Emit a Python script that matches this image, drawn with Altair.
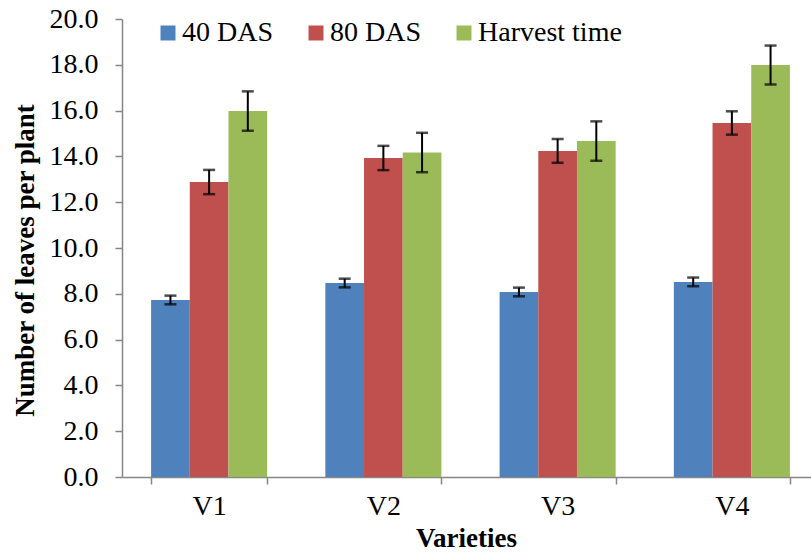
import altair as alt
import pandas as pd

categories = ["V1", "V2", "V3", "V4"]
series = ["40 DAS", "80 DAS", "Harvest time"]
vals_40 = [7.73, 8.47, 8.08, 8.52]
err_40 = [0.19, 0.19, 0.19, 0.19]
vals_80 = [12.88, 13.93, 14.24, 15.46]
err_80 = [0.53, 0.53, 0.52, 0.51]
vals_h = [15.98, 14.17, 14.67, 17.99]
err_h = [0.86, 0.86, 0.86, 0.85]
colors = ["#4F81BD", "#C0504D", "#9BBB59"]
y_ticks = [0, 2, 4, 6, 8, 10, 12, 14, 16, 18, 20]

rows = []
for s, vals, errs in zip(series, [vals_40, vals_80, vals_h], [err_40, err_80, err_h]):
    for c, v, e in zip(categories, vals, errs):
        rows.append({"cat": c, "series": s, "value": v, "lo": v - e, "hi": v + e})
df = pd.DataFrame(rows)

FONT = "Liberation Serif"
W, H = 689, 458
AX = "#868686"

x_enc = alt.X(
    "cat:N",
    sort=categories,
    scale=alt.Scale(range=[0, 697], paddingInner=0.334, paddingOuter=0.167),
    axis=alt.Axis(
        title="Varieties",
        titleFont=FONT, titleFontSize=27, titleFontWeight="bold", titleColor="black",
        titleX=344, titleY=69, titleBaseline="alphabetic", titleAlign="center",
        labelFont=FONT, labelFontSize=28, labelColor="black", labelAngle=0,
        labelBaseline="alphabetic", labelPadding=30,
        domainColor=AX, domainWidth=1.5, tickColor=AX, tickWidth=1.5, tickSize=7,
        tickBand="extent", grid=False,
    ),
)
xoff = alt.XOffset("series:N", sort=series, scale=alt.Scale(paddingInner=0, paddingOuter=0))

y_scale = alt.Scale(domain=[0, 20], nice=False)
y_axis = alt.Axis(
    title="Number of leaves per plant",
    titleFont=FONT, titleFontSize=27, titleFontWeight="bold", titleColor="black",
    titleX=-89, titleY=241, titleAlign="center", titleBaseline="alphabetic", titleAngle=-90,
    labelFont=FONT, labelFontSize=28, labelColor="black", labelPadding=17,
    format=".1f", values=y_ticks,
    domainColor=AX, domainWidth=1.5, tickColor=AX, tickWidth=1.5, tickSize=7, grid=False,
)

base = alt.Chart(df)
bars = base.mark_bar().encode(
    x=x_enc,
    xOffset=xoff,
    y=alt.Y("value:Q", scale=y_scale, axis=y_axis),
    color=alt.Color(
        "series:N", sort=series,
        scale=alt.Scale(domain=series, range=colors),
        legend=alt.Legend(
            title=None, orient="none", legendX=32, legendY=0, direction="horizontal",
            symbolType="square", symbolSize=225, symbolStrokeWidth=0, symbolOpacity=1,
            labelFont=FONT, labelFontSize=28, labelColor="black", labelOffset=0,
            columnPadding=28, padding=0,
        ),
    ),
)
rules = base.mark_rule(color="black", strokeWidth=2).encode(
    x=alt.X("cat:N", sort=categories), xOffset=xoff,
    y=alt.Y("lo:Q", scale=y_scale), y2="hi:Q",
)
cap_lo = base.mark_tick(color="black", thickness=2.5, size=12).encode(
    x=alt.X("cat:N", sort=categories), xOffset=xoff,
    y=alt.Y("lo:Q", scale=y_scale),
)
cap_hi = base.mark_tick(color="black", thickness=2.5, size=12).encode(
    x=alt.X("cat:N", sort=categories), xOffset=xoff,
    y=alt.Y("hi:Q", scale=y_scale),
)

chart = alt.layer(bars, rules, cap_lo, cap_hi).properties(
    width=W, height=H,
    autosize=alt.AutoSizeParams(type="none"),
    padding={"left": 122, "top": 19, "right": 0, "bottom": 75},
    background="white",
).configure(
    font=FONT
).configure_view(
    stroke=None
).configure_axis(
    labelFont=FONT, titleFont=FONT
).configure_legend(
    labelFont=FONT, titleFont=FONT
)

chart.save("out.html", embed_options={"renderer": "svg", "actions": False})
